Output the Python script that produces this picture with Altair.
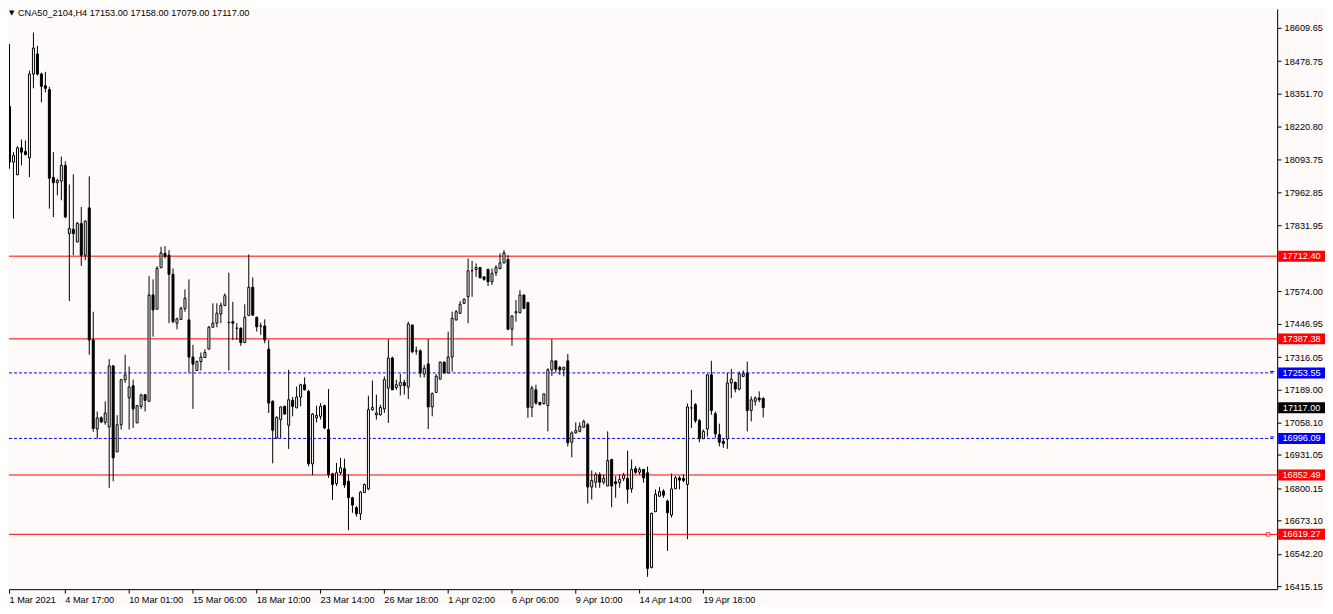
import altair as alt
import pandas as pd

# ---- data (H4 candles, CNA50_2104) ----
OPEN = [18390,18491,18300,18082,18032,18138,18124,18099,18428,18507,18428,18382,18367,18022,18001,18007,
        18069,17801,17818,17768,17841,17716,17902,17383,17033,17077,17059,17041,17281,16943,17050,17227,
        17156,17203,17057,17122,17168,17142,17560,17504,17667,17723,17716,17641,17449,17464,17507,17462,
        17316,17263,17298,17314,17347,17433,17449,17485,17519,17451,17455,17429,17429,17373,17479,17590,
        17472,17438,17438,17347,17142,16998,17070,17122,17048,17146,17116,17159,17207,17181,16896,17077,
        17083,17125,17031,16857,16819,16861,16877,16828,16763,16724,16700,16783,16798,17109,17089,17089,
        17112,17194,17312,17196,17203,17216,17198,17442,17340,17340,17249,17289,17120,17177,17229,17296,
        17253,17316,17462,17488,17527,17553,17655,17660,17668,17631,17660,17612,17647,17664,17686,17699,
        17425,17490,17490,17560,17530,17118,17187,17138,17133,17125,17266,17301,17275,17266,17301,16981,
        17018,17024,17040,17050,16805,16824,16854,16824,16809,16913,16826,16822,16838,16839,16798,16877,
        16863,16874,16861,16489,16708,16769,16789,16750,16695,16798,16841,16839,16815,17116,17129,17066,
        16995,17033,17246,17093,17011,16985,16994,17214,17216,17190,17240,17253,17106,17142,17155,17153]
HIGH = [18504,18516,18546,18121,18145,18171,18167,18441,18591,18539,18434,18437,18378,18121,18017,18104,
        18085,17994,18034,17847,17906,17853,18026,17494,17102,17083,17142,17308,17285,17087,17230,17325,
        17279,17227,17126,17172,17168,17634,17621,17673,17749,17752,17736,17664,17471,17514,17582,17621,
        17364,17302,17334,17347,17438,17527,17527,17530,17566,17647,17533,17449,17433,17523,17719,17629,
        17475,17451,17464,17383,17146,17083,17122,17125,17266,17159,17200,17211,17236,17187,17096,17125,
        17135,17129,17190,16861,16900,16920,16916,16854,16767,16730,16789,16819,17164,17224,17168,17129,
        17240,17386,17318,17227,17249,17227,17455,17442,17357,17347,17285,17386,17177,17249,17298,17298,
        17416,17494,17501,17536,17547,17703,17694,17684,17670,17634,17664,17664,17677,17723,17736,17716,
        17481,17540,17579,17560,17533,17203,17207,17138,17172,17272,17386,17301,17281,17276,17328,17024,
        17059,17059,17070,17057,16870,16863,16863,16854,17024,16916,16848,16854,16861,16948,16913,16887,
        16883,16877,16886,16704,16796,16805,16796,16756,16858,16848,16848,16854,17133,17187,17135,17073,
        17031,17250,17301,17102,17054,16994,17253,17269,17220,17259,17263,17298,17161,17161,17181,17158]
LOW = [18371,18488,18056,17860,18032,18069,18108,18023,18372,18422,18317,18356,17899,17866,17951,17932,
       17862,17536,17716,17768,17674,17697,17325,17022,16995,17057,17050,16802,16828,16943,17031,17214,
       17031,17037,17057,17112,17102,17142,17396,17504,17667,17703,17449,17449,17425,17462,17494,17255,
       17112,17263,17263,17312,17347,17433,17433,17449,17516,17263,17383,17383,17360,17373,17479,17477,
       17416,17403,17370,17096,16898,16994,16998,17089,16955,17083,17116,17122,17185,16887,16852,17059,
       17070,17033,16841,16754,16809,16854,16802,16636,16704,16689,16675,16783,16793,17105,17070,17086,
       17096,17057,17187,17187,17165,17168,17151,17331,17325,17236,17236,17033,17083,17177,17229,17253,
       17253,17259,17459,17485,17524,17449,17553,17631,17627,17616,17595,17599,17634,17660,17684,17422,
       17360,17455,17488,17504,17077,17080,17129,17125,17129,17024,17242,17255,17246,17240,16965,16922,
       17015,17020,17037,16740,16756,16802,16802,16815,16809,16726,16763,16802,16828,16740,16783,16857,
       16854,16822,16452,16485,16708,16767,16763,16554,16685,16798,16796,16824,16600,17037,17057,16981,
       16994,17004,17089,16998,16965,16959,16955,17155,17177,17185,17237,17024,17063,17125,17138,17079]
CLOSE = [18492,18503,18082,18108,18138,18121,18112,18428,18530,18428,18380,18372,18019,18001,18010,18069,
         17866,17821,17801,17841,17716,17850,17383,17035,17077,17061,17096,17281,16920,17050,17227,17246,
         17198,17112,17125,17167,17146,17560,17501,17664,17725,17712,17641,17455,17466,17507,17547,17316,
         17288,17298,17316,17334,17433,17449,17488,17519,17557,17452,17449,17429,17373,17472,17590,17481,
         17435,17438,17383,17135,17028,17079,17120,17092,17148,17122,17159,17207,17187,16897,17092,17086,
         17122,17037,16854,16815,16861,16881,16813,16763,16734,16700,16785,16815,17109,17118,17096,17118,
         17227,17312,17187,17207,17216,17204,17446,17337,17340,17253,17272,17120,17172,17240,17296,17253,
         17316,17468,17494,17523,17543,17655,17655,17668,17627,17621,17612,17645,17668,17686,17725,17425,
         17477,17494,17560,17507,17118,17194,17135,17129,17171,17266,17301,17268,17266,17276,16979,17018,
         17027,17044,17063,16805,16831,16854,16824,16839,16909,16809,16818,16835,16852,16796,16874,16863,
         16874,16841,16485,16702,16776,16787,16773,16704,16798,16841,16832,16831,17120,17116,17066,16995,
         17024,17246,17106,17014,16981,16976,17214,17229,17190,17250,17250,17106,17148,17155,17148,17117]

TICK_IDX = [2, 16, 32, 48, 64, 80, 96, 112, 128, 144, 160, 176]
TICK_LABELS = ["1 Mar 2021", "4 Mar 17:00", "10 Mar 01:00", "15 Mar 06:00", "18 Mar 10:00",
               "23 Mar 14:00", "26 Mar 18:00", "1 Apr 02:00", "6 Apr 06:00", "9 Apr 10:00",
               "14 Apr 14:00", "19 Apr 18:00"]
PRICE_TICKS = [18609.65, 18478.75, 18351.70, 18220.80, 18093.75, 17962.85, 17831.95, 17574.00,
               17446.95, 17316.05, 17189.00, 17058.10, 16931.05, 16800.15, 16673.10, 16542.20, 16415.15]

RED_LEVELS = [17712.40, 17387.38, 16852.49, 16619.27]
BLUE_LEVELS = [17253.55, 16996.09]
CURRENT = 17117.00

HEADER = "CNA50_2104,H4  17153.00 17158.00 17079.00 17117.00"

# ---- build tables ----
n = len(OPEN)
candles = pd.DataFrame({
    "i": list(range(n)), "O": OPEN, "H": HIGH, "L": LOW, "C": CLOSE,
})
candles["dir"] = ["up" if c >= o else "down" for o, c in zip(OPEN, CLOSE)]

boxes = pd.DataFrame({
    "p": RED_LEVELS + BLUE_LEVELS + [CURRENT],
    "col": ["#ff0000"] * len(RED_LEVELS) + ["#0000ff"] * len(BLUE_LEVELS) + ["#000000"],
})
boxes["lab"] = [f"{v:.2f}" for v in boxes["p"]]

W, H = 1272, 582
FONT = "Liberation Sans"
BG = "#fffafa"

xscale = alt.Scale(domain=[2, 320], nice=False, zero=False)
yscale = alt.Scale(domain=[16403.8, 18684.1], nice=False, zero=False)

label_arr = "[" + ",".join(f"'{t}'" for t in TICK_LABELS) + "]"
xaxis = alt.Axis(values=TICK_IDX, labelExpr=f"{label_arr}[floor(datum.value/16)]",
                 orient="bottom", grid=False, domainColor="#000000", tickColor="#000000",
                 tickSize=4, labelAlign="left", labelPadding=2,
                 labelFont=FONT, labelFontSize=9.2, labelColor="#000000", title=None,
                 labelOverlap=False, labelFlush=False)
yaxis = alt.Axis(values=PRICE_TICKS, format=".2f", orient="right", grid=False,
                 domainColor="#000000", tickColor="#000000", tickSize=4, labelPadding=3,
                 labelFont=FONT, labelFontSize=9.2, labelColor="#000000", title=None,
                 labelOverlap=False, labelFlush=False)


def X(field):
    return alt.X(field, type="quantitative", scale=xscale, axis=xaxis)


def Y(field):
    return alt.Y(field, type="quantitative", scale=yscale, axis=yaxis)


base = alt.Chart(candles)

wicks = base.mark_rule(color="#000000", strokeWidth=1, clip=True, xOffset=0.5).encode(
    x=X("i"), y=Y("L"), y2="H"
)

bodies = base.transform_calculate(
    xl="datum.i - 0.25", xr="datum.i + 0.25"
).mark_rect(stroke="#000000", strokeWidth=1, clip=True, xOffset=0.5, x2Offset=0.5).encode(
    x=X("xl"), x2="xr", y=Y("O"), y2="C",
    fill=alt.Fill("dir:N", scale=alt.Scale(domain=["up", "down"], range=["#ffffff", "#000000"]),
                  legend=None),
)

red_lines = alt.Chart(pd.DataFrame({"p": RED_LEVELS})).mark_rule(
    color="#ff0000", strokeWidth=1
).encode(y=Y("p"))

blue_lines = alt.Chart(pd.DataFrame({"p": BLUE_LEVELS})).mark_rule(
    color="#0000ff", strokeWidth=1, strokeDash=[3, 2]
).encode(y=Y("p"), x=alt.value(0), x2=alt.value(W - 4))

blue_hooks = alt.Chart(pd.DataFrame({"p": BLUE_LEVELS})).mark_rule(
    color="#0000ff", strokeWidth=1, yOffset=-1.5
).encode(y=Y("p"), x=alt.value(W - 7), x2=alt.value(W - 3))

anchor = alt.Chart(pd.DataFrame({"p": [16619.27]})).mark_square(
    size=14, color="#ff0000", filled=False, strokeWidth=1, fill=BG
).encode(y=Y("p"), x=alt.value(W - 9))

box_rects = alt.Chart(boxes).transform_calculate(
    top="datum.p + 21.5", bot="datum.p - 21.5"
).mark_rect().encode(
    y=Y("top"), y2="bot", x=alt.value(W + 1), x2=alt.value(W + 48),
    fill=alt.Fill("col:N", scale=None),
)

box_text = alt.Chart(boxes).mark_text(
    color="#ffffff", font=FONT, fontSize=9.2, align="center", baseline="middle"
).encode(y=Y("p"), x=alt.value(W + 24.5), text="lab:N")

hdr = pd.DataFrame({"t": [HEADER], "tri": ["\u25bc"]})
header_tri = alt.Chart(hdr).mark_text(
    font="DejaVu Sans", fontSize=7, color="#000000", align="left", baseline="middle"
).encode(x=alt.value(0), y=alt.value(4), text="tri:N")
header_txt = alt.Chart(hdr).mark_text(
    font=FONT, fontSize=9.2, color="#000000", align="left", baseline="middle"
).encode(x=alt.value(9), y=alt.value(4), text="t:N")

chart = alt.layer(
    red_lines, blue_lines, blue_hooks, wicks, bodies, anchor, box_rects, box_text,
    header_tri, header_txt
).properties(
    width=W, height=H, padding=0, background=BG
).configure_view(
    stroke=None, fill=BG
)

chart.save("out.html", embed_options={"renderer": "svg", "actions": False})
